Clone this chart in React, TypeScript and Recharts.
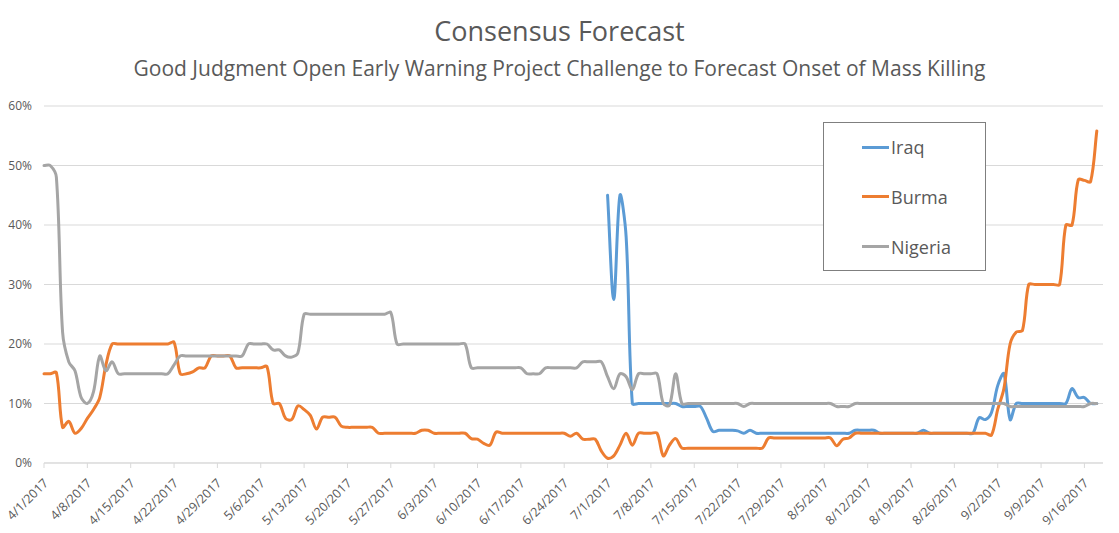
import React from 'react';
import { LineChart, Line, XAxis, YAxis, CartesianGrid, Legend } from 'recharts';

// days counted from 4/1/2017
const tickDays = [0, 7, 14, 21, 28, 35, 42, 49, 56, 63, 70, 77, 84, 91, 98, 105, 112, 119, 126, 133, 140, 147, 154, 161, 168];
const tickLabels = [
  '4/1/2017', '4/8/2017', '4/15/2017', '4/22/2017', '4/29/2017', '5/6/2017', '5/13/2017',
  '5/20/2017', '5/27/2017', '6/3/2017', '6/10/2017', '6/17/2017', '6/24/2017', '7/1/2017',
  '7/8/2017', '7/15/2017', '7/22/2017', '7/29/2017', '8/5/2017', '8/12/2017', '8/19/2017',
  '8/26/2017', '9/2/2017', '9/9/2017', '9/16/2017',
];
const yTicks = [0, 10, 20, 30, 40, 50, 60];

// Iraq forecasts start on 7/1 (day 91)
const iraqStartDay = 91;
const iraq = [
  45, 27.5, 45, 38, 10, 10, 10, 10, 10,
  10, 10, 10, 9.5, 9.5, 9.5, 9.5, 7.5, 5.3, 5.5,
  5.5, 5.5, 5.4, 5, 5.5, 5, 5, 5, 5, 5,
  5, 5, 5, 5, 5, 5, 5, 5, 5, 5,
  5, 5.5, 5.5, 5.5, 5.5, 5, 5, 5, 5, 5,
  5, 5, 5.5, 5, 5, 5, 5, 5, 5, 5,
  5, 7.6, 7.3, 8.5, 13, 15, 7.3, 10, 10, 10,
  10, 10, 10, 10, 10, 10, 12.5, 11, 11, 10,
  10,
];

const burma = [
  15, 15, 15.2, 6, 7, 5, 5.8, 7.5, 9, 11,
  16.5, 20, 20, 20, 20, 20, 20, 20, 20, 20,
  20, 20.3, 15, 15, 15.3, 16, 16, 18, 18, 18,
  18, 16, 16, 16, 16, 16, 16.2, 10, 10, 7.5,
  7.3, 9.6, 9, 8, 5.7, 7.7, 7.7, 7.7, 6.2, 6,
  6, 6, 6, 6, 5, 5, 5, 5, 5, 5,
  5, 5.5, 5.5, 5, 5, 5, 5, 5, 5, 4.1,
  4, 3.3, 3, 5.2, 5, 5, 5, 5, 5, 5,
  5, 5, 5, 5, 5, 4.5, 5, 4, 4, 4,
  2, 0.8, 1.2, 3, 5, 3, 5, 5, 5, 5,
  1.2, 3, 4.1, 2.5, 2.5, 2.5, 2.5, 2.5, 2.5, 2.5,
  2.5, 2.5, 2.5, 2.5, 2.5, 2.5, 2.5, 4.2, 4.2, 4.2,
  4.2, 4.2, 4.2, 4.2, 4.2, 4.2, 4.2, 4.2, 2.9, 4,
  4.2, 5, 5, 5, 5, 5, 5, 5, 5, 5,
  5, 5, 5, 5, 5, 5, 5, 5, 5, 5,
  5, 5, 5, 4.7, 9, 12.5, 20, 22, 22.3, 30,
  30, 30, 30, 30, 30, 40, 40, 47.6, 47.5, 47.3,
  55.8,
];

const nigeria = [
  50, 50, 48, 22, 17, 15.5, 11, 10, 12, 18,
  15.5, 17, 15, 15, 15, 15, 15, 15, 15, 15,
  15, 16.5, 18, 18, 18, 18, 18, 18, 18, 18,
  18, 18, 18, 20, 20, 20, 20, 19, 19, 18,
  17.8, 18.5, 25, 25, 25, 25, 25, 25, 25, 25,
  25, 25, 25, 25, 25, 25, 25.3, 20, 20, 20,
  20, 20, 20, 20, 20, 20, 20, 20, 20, 16,
  16, 16, 16, 16, 16, 16, 16, 16, 15, 15,
  15, 16, 16, 16, 16, 16, 16, 17, 17, 17,
  17, 14.5, 12.5, 15, 14.5, 12.3, 15, 15, 15, 15,
  10, 9.7, 15, 10, 10, 10, 10, 10, 10, 10,
  10, 10, 10, 9.5, 10, 10, 10, 10, 10, 10,
  10, 10, 10, 10, 10, 10, 10, 10, 9.5, 9.5,
  9.5, 10, 10, 10, 10, 10, 10, 10, 10, 10,
  10, 10, 10, 10, 10, 10, 10, 10, 10, 10,
  10, 10, 10, 10, 10, 10, 9.5, 9.5, 9.5, 9.5,
  9.5, 9.5, 9.5, 9.5, 9.5, 9.5, 9.5, 9.5, 9.5, 10,
  10,
];

const series = [
  { key: 'iraq', name: 'Iraq', color: '#5B9BD5' },
  { key: 'burma', name: 'Burma', color: '#ED7D31' },
  { key: 'nigeria', name: 'Nigeria', color: '#A5A5A5' },
];

const chartData = nigeria.map((n, day) => ({
  day,
  iraq: day >= iraqStartDay ? iraq[day - iraqStartDay] : null,
  burma: burma[day],
  nigeria: n,
}));

const FONT = "'Open Sans', sans-serif";
const TEXT = '#595959';
const GRID = '#d9d9d9';

// Excel-style smoothed line: bezier tangents weighted by neighbouring segment lengths
const excelSmooth = (context: any) => {
  let xs: number[] = [];
  let ys: number[] = [];
  return {
    areaStart() {},
    areaEnd() {},
    lineStart() {
      xs = [];
      ys = [];
    },
    lineEnd() {
      const n = xs.length;
      if (!n) return;
      context.moveTo(xs[0], ys[0]);
      if (n === 1) {
        context.lineTo(xs[0], ys[0]);
        return;
      }
      const dist = (i: number, j: number) => Math.hypot(xs[j] - xs[i], ys[j] - ys[i]);
      for (let i = 0; i < n - 1; i++) {
        const a = Math.max(i - 1, 0);
        const d = Math.min(i + 2, n - 1);
        const d01 = dist(a, i);
        const d12 = dist(i, i + 1);
        const d23 = dist(i + 1, d);
        const f1 = d01 + d12 > 0 ? d12 / (d01 + d12) / 3 : 0;
        const f2 = d12 + d23 > 0 ? d12 / (d12 + d23) / 3 : 0;
        context.bezierCurveTo(
          xs[i] + (xs[i + 1] - xs[a]) * f1,
          ys[i] + (ys[i + 1] - ys[a]) * f1,
          xs[i + 1] - (xs[d] - xs[i]) * f2,
          ys[i + 1] - (ys[d] - ys[i]) * f2,
          xs[i + 1],
          ys[i + 1],
        );
      }
    },
    point(x: number, y: number) {
      xs.push(+x);
      ys.push(+y);
    },
  };
};

function DateTick(props: any) {
  const { x, y, payload } = props;
  const label = tickLabels[tickDays.indexOf(payload.value)];
  const bx = x + 5;
  const by = y + 16;
  return (
    <text
      x={bx}
      y={by}
      transform={`rotate(-45 ${bx} ${by})`}
      textAnchor="end"
      fontSize={12.5}
      fontFamily={FONT}
      fill={TEXT}
    >
      {label}
    </text>
  );
}

function LegendBox() {
  return (
    <div
      style={{
        width: 163,
        height: 149,
        boxSizing: 'border-box',
        border: '1px solid #7f7f7f',
        background: '#fff',
        position: 'relative',
        fontFamily: FONT,
      }}
    >
      {series.map((s, i) => (
        <div
          key={s.key}
          style={{
            position: 'absolute',
            left: 38,
            top: 11 + i * 49.8,
            height: 26,
            display: 'flex',
            alignItems: 'center',
          }}
        >
          <span style={{ display: 'inline-block', width: 27, height: 3, background: s.color }} />
          <span style={{ marginLeft: 2, fontSize: 18, lineHeight: '26px', color: TEXT }}>{s.name}</span>
        </div>
      ))}
    </div>
  );
}

export default function App() {
  return (
    <div
      style={{
        position: 'absolute',
        left: 0,
        top: 0,
        width: 1119,
        height: 533,
        background: '#fff',
        fontFamily: FONT,
      }}
    >
      <div
        style={{
          position: 'absolute',
          left: 0,
          width: 1119,
          top: 17,
          textAlign: 'center',
          fontSize: 27,
          lineHeight: '27px',
          color: TEXT,
        }}
      >
        Consensus Forecast
      </div>
      <div
        style={{
          position: 'absolute',
          left: 0,
          width: 1119,
          top: 57.5,
          textAlign: 'center',
          fontSize: 21,
          lineHeight: '21px',
          color: TEXT,
        }}
      >
        Good Judgment Open Early Warning Project Challenge to Forecast Onset of Mass Killing
      </div>
      <LineChart
        width={1119}
        height={533}
        data={chartData}
        margin={{ top: 106, right: 16, bottom: 0, left: 0 }}
      >
        <CartesianGrid horizontal vertical={false} stroke={GRID} strokeWidth={1} />
        <XAxis
          dataKey="day"
          type="number"
          domain={[0, 171]}
          ticks={tickDays}
          interval={0}
          height={70}
          axisLine={{ stroke: GRID }}
          tickLine={{ stroke: GRID }}
          tickSize={5}
          tickMargin={0}
          tick={<DateTick />}
        />
        <YAxis
          type="number"
          domain={[0, 60]}
          ticks={yTicks}
          width={44}
          axisLine={false}
          tickLine={false}
          tickSize={0}
          tickMargin={12}
          tickFormatter={(v: number) => `${v}%`}
          tick={{ fontSize: 12, fill: TEXT, fontFamily: FONT }}
        />
        <Legend
          layout="vertical"
          align="center"
          verticalAlign="middle"
          wrapperStyle={{ left: 823, top: 122, width: 163, height: 149 }}
          content={() => <LegendBox />}
        />
        {series.map((s) => (
          <Line
            key={s.key}
            dataKey={s.key}
            name={s.name}
            type={excelSmooth as any}
            stroke={s.color}
            strokeWidth={3}
            strokeLinecap="round"
            strokeLinejoin="round"
            dot={false}
            activeDot={false}
            isAnimationActive={false}
          />
        ))}
      </LineChart>
    </div>
  );
}
